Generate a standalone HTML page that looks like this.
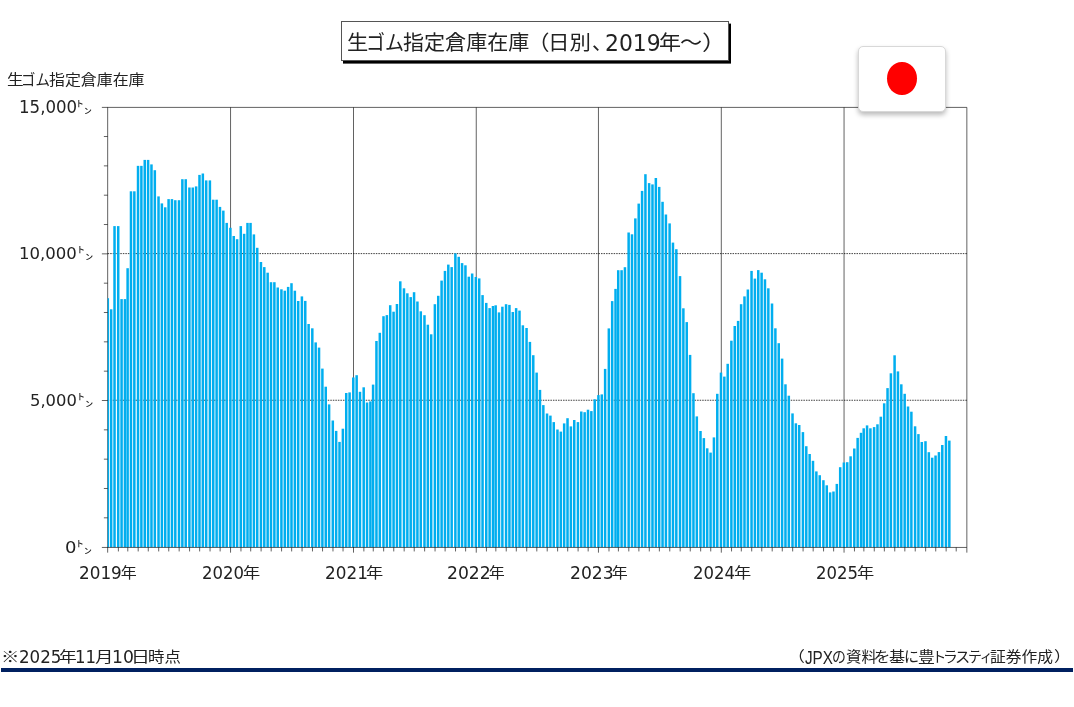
<!DOCTYPE html>
<html lang="ja">
<head>
<meta charset="utf-8">
<title>生ゴム指定倉庫在庫（日別、2019年～）</title>
<style>
html,body{margin:0;padding:0;background:#fff;}
body{width:1074px;height:707px;position:relative;overflow:hidden;color:#222;
  font-family:"Liberation Sans","Noto Sans CJK JP",sans-serif;}
.abs{position:absolute;white-space:nowrap;}
.n{font-family:"DejaVu Sans","Liberation Sans",sans-serif;}
.l{font-family:"Liberation Sans",sans-serif;}
.title{position:absolute;left:341px;top:21px;width:388px;height:40px;box-sizing:border-box;
  border:1px solid #555;background:#fff;box-shadow:2px 2.6px 0 0 #000;}
.ln{position:absolute;left:0;top:0;width:0;height:0;white-space:nowrap;}
.ln span{position:absolute;transform-origin:0 0;white-space:nowrap;}
.flag{position:absolute;left:858.2px;top:46px;width:87.6px;height:65.6px;box-sizing:border-box;border:1px solid #d8d8d8;border-radius:5px;background:#fff;
  box-shadow:0 3px 5px rgba(0,0,0,.27);}
.flag i{position:absolute;left:28.3px;top:15.4px;width:29.6px;height:32.9px;border-radius:50%;background:#f00;}
.rule{position:absolute;left:0.7px;top:667.9px;width:1072.4px;height:3.75px;background:#002060;}
</style>
</head>
<body>
<svg width="1074" height="707" viewBox="0 0 1074 707" style="position:absolute;left:0;top:0">
<defs><clipPath id="pc"><rect x="107.66" y="107.4" width="859.19" height="440.05"/></clipPath></defs>
<g><line x1="107.66" y1="400.25" x2="966.85" y2="400.25" stroke="#000" stroke-width="0.75" stroke-dasharray="1.5 1.03"/><line x1="107.66" y1="253.6" x2="966.85" y2="253.6" stroke="#000" stroke-width="0.75" stroke-dasharray="1.5 1.03"/><line x1="230.55" y1="107.4" x2="230.55" y2="547.45" stroke="#000" stroke-width="0.62"/><line x1="353.5" y1="107.4" x2="353.5" y2="547.45" stroke="#000" stroke-width="0.62"/><line x1="476.25" y1="107.4" x2="476.25" y2="547.45" stroke="#000" stroke-width="0.62"/><line x1="598.45" y1="107.4" x2="598.45" y2="547.45" stroke="#000" stroke-width="0.62"/><line x1="721.3" y1="107.4" x2="721.3" y2="547.45" stroke="#000" stroke-width="0.62"/><line x1="844.05" y1="107.4" x2="844.05" y2="547.45" stroke="#000" stroke-width="0.62"/><line x1="107.66" y1="107.4" x2="107.66" y2="547.45" stroke="#000" stroke-width="0.62"/></g>
<g fill="#00AEEF" clip-path="url(#pc)"><rect x="106.56" y="298.2" width="2.5" height="249.25"/><rect x="109.92" y="309.3" width="2.5" height="238.15"/><rect x="113.28" y="226.1" width="2.5" height="321.35"/><rect x="116.97" y="226.1" width="2.5" height="321.35"/><rect x="120.33" y="299.1" width="2.5" height="248.35"/><rect x="123.69" y="299.1" width="2.5" height="248.35"/><rect x="126.37" y="268.2" width="2.5" height="279.25"/><rect x="129.73" y="191.3" width="2.5" height="356.15"/><rect x="133.09" y="191.3" width="2.5" height="356.15"/><rect x="136.78" y="165.85" width="2.5" height="381.6"/><rect x="140.14" y="165.85" width="2.5" height="381.6"/><rect x="143.5" y="159.9" width="2.5" height="387.55"/><rect x="146.86" y="159.9" width="2.5" height="387.55"/><rect x="150.22" y="164.4" width="2.5" height="383.05"/><rect x="153.57" y="170.2" width="2.5" height="377.25"/><rect x="157.27" y="196.4" width="2.5" height="351.05"/><rect x="160.63" y="203.4" width="2.5" height="344.05"/><rect x="163.98" y="207.3" width="2.5" height="340.15"/><rect x="167.34" y="199.1" width="2.5" height="348.35"/><rect x="170.7" y="199.1" width="2.5" height="348.35"/><rect x="174.06" y="200.2" width="2.5" height="347.25"/><rect x="177.75" y="200.2" width="2.5" height="347.25"/><rect x="181.11" y="179.2" width="2.5" height="368.25"/><rect x="184.47" y="179.2" width="2.5" height="368.25"/><rect x="188.16" y="187.5" width="2.5" height="359.95"/><rect x="191.52" y="187.5" width="2.5" height="359.95"/><rect x="194.88" y="186.4" width="2.5" height="361.05"/><rect x="198.24" y="174.9" width="2.5" height="372.55"/><rect x="201.59" y="173.5" width="2.5" height="373.95"/><rect x="204.95" y="180.4" width="2.5" height="367.05"/><rect x="208.65" y="180.4" width="2.5" height="367.05"/><rect x="212" y="199.7" width="2.5" height="347.75"/><rect x="215.36" y="199.7" width="2.5" height="347.75"/><rect x="218.72" y="206.9" width="2.5" height="340.55"/><rect x="222.08" y="210.6" width="2.5" height="336.85"/><rect x="225.44" y="222.9" width="2.5" height="324.55"/><rect x="229.13" y="227.8" width="2.5" height="319.65"/><rect x="232.49" y="236" width="2.5" height="311.45"/><rect x="235.85" y="239.2" width="2.5" height="308.25"/><rect x="239.54" y="226.1" width="2.5" height="321.35"/><rect x="242.9" y="233.8" width="2.5" height="313.65"/><rect x="246.25" y="222.9" width="2.5" height="324.55"/><rect x="249.28" y="222.9" width="2.5" height="324.55"/><rect x="252.64" y="234.4" width="2.5" height="313.05"/><rect x="255.99" y="247.8" width="2.5" height="299.65"/><rect x="259.69" y="262" width="2.5" height="285.45"/><rect x="263.04" y="267.1" width="2.5" height="280.35"/><rect x="266.4" y="272.7" width="2.5" height="274.75"/><rect x="269.76" y="282.2" width="2.5" height="265.25"/><rect x="273.12" y="282.2" width="2.5" height="265.25"/><rect x="276.48" y="287.5" width="2.5" height="259.95"/><rect x="280.17" y="289.3" width="2.5" height="258.15"/><rect x="283.53" y="290.7" width="2.5" height="256.75"/><rect x="286.89" y="286.9" width="2.5" height="260.55"/><rect x="290.24" y="283.2" width="2.5" height="264.25"/><rect x="293.6" y="290.7" width="2.5" height="256.75"/><rect x="296.96" y="301" width="2.5" height="246.45"/><rect x="300.65" y="296.4" width="2.5" height="251.05"/><rect x="304.01" y="300.9" width="2.5" height="246.55"/><rect x="307.37" y="324" width="2.5" height="223.45"/><rect x="311.06" y="328.3" width="2.5" height="219.15"/><rect x="314.42" y="342.4" width="2.5" height="205.05"/><rect x="317.78" y="347.6" width="2.5" height="199.85"/><rect x="321.14" y="368.6" width="2.5" height="178.85"/><rect x="324.5" y="386.7" width="2.5" height="160.75"/><rect x="327.85" y="404.4" width="2.5" height="143.05"/><rect x="331.55" y="420.5" width="2.5" height="126.95"/><rect x="334.91" y="430.9" width="2.5" height="116.55"/><rect x="338.26" y="441.9" width="2.5" height="105.55"/><rect x="341.62" y="428.7" width="2.5" height="118.75"/><rect x="344.98" y="393" width="2.5" height="154.45"/><rect x="348.34" y="392.4" width="2.5" height="155.05"/><rect x="352.03" y="377.5" width="2.5" height="169.95"/><rect x="355.39" y="375.2" width="2.5" height="172.25"/><rect x="358.75" y="391.8" width="2.5" height="155.65"/><rect x="362.44" y="387.3" width="2.5" height="160.15"/><rect x="365.8" y="402.5" width="2.5" height="144.95"/><rect x="369.16" y="401.4" width="2.5" height="146.05"/><rect x="371.84" y="384.6" width="2.5" height="162.85"/><rect x="375.2" y="341" width="2.5" height="206.45"/><rect x="378.56" y="332.8" width="2.5" height="214.65"/><rect x="382.25" y="316.2" width="2.5" height="231.25"/><rect x="385.61" y="315.1" width="2.5" height="232.35"/><rect x="388.97" y="305.2" width="2.5" height="242.25"/><rect x="392.33" y="311.7" width="2.5" height="235.75"/><rect x="395.69" y="304" width="2.5" height="243.45"/><rect x="399.04" y="281.3" width="2.5" height="266.15"/><rect x="402.74" y="288.3" width="2.5" height="259.15"/><rect x="406.1" y="293.3" width="2.5" height="254.15"/><rect x="409.45" y="297.1" width="2.5" height="250.35"/><rect x="412.81" y="292.2" width="2.5" height="255.25"/><rect x="416.17" y="301.5" width="2.5" height="245.95"/><rect x="419.53" y="311.3" width="2.5" height="236.15"/><rect x="423.22" y="315.2" width="2.5" height="232.25"/><rect x="426.58" y="324.7" width="2.5" height="222.75"/><rect x="429.94" y="334.3" width="2.5" height="213.15"/><rect x="433.63" y="304.2" width="2.5" height="243.25"/><rect x="436.99" y="295.8" width="2.5" height="251.65"/><rect x="440.35" y="280.6" width="2.5" height="266.85"/><rect x="443.71" y="270.9" width="2.5" height="276.55"/><rect x="447.06" y="264.6" width="2.5" height="282.85"/><rect x="450.42" y="267.1" width="2.5" height="280.35"/><rect x="454.12" y="253.4" width="2.5" height="294.05"/><rect x="457.47" y="256.8" width="2.5" height="290.65"/><rect x="460.83" y="263.1" width="2.5" height="284.35"/><rect x="464.19" y="265.3" width="2.5" height="282.15"/><rect x="467.55" y="276.7" width="2.5" height="270.75"/><rect x="470.91" y="273.5" width="2.5" height="273.95"/><rect x="474.6" y="277" width="2.5" height="270.45"/><rect x="477.96" y="278.4" width="2.5" height="269.05"/><rect x="481.31" y="295.1" width="2.5" height="252.35"/><rect x="485.01" y="302.9" width="2.5" height="244.55"/><rect x="488.37" y="308.1" width="2.5" height="239.35"/><rect x="491.72" y="306" width="2.5" height="241.45"/><rect x="494.41" y="305.3" width="2.5" height="242.15"/><rect x="497.77" y="312.4" width="2.5" height="235.05"/><rect x="501.13" y="306.7" width="2.5" height="240.75"/><rect x="504.82" y="304.2" width="2.5" height="243.25"/><rect x="508.18" y="304.9" width="2.5" height="242.55"/><rect x="511.54" y="312" width="2.5" height="235.45"/><rect x="514.89" y="308.1" width="2.5" height="239.35"/><rect x="518.25" y="310.6" width="2.5" height="236.85"/><rect x="521.61" y="325.3" width="2.5" height="222.15"/><rect x="525.3" y="328" width="2.5" height="219.45"/><rect x="528.66" y="341.9" width="2.5" height="205.55"/><rect x="532.02" y="355.2" width="2.5" height="192.25"/><rect x="535.38" y="372.6" width="2.5" height="174.85"/><rect x="538.74" y="389.9" width="2.5" height="157.55"/><rect x="542.09" y="405.1" width="2.5" height="142.35"/><rect x="545.79" y="413.5" width="2.5" height="133.95"/><rect x="549.15" y="415.6" width="2.5" height="131.85"/><rect x="552.5" y="422.1" width="2.5" height="125.35"/><rect x="556.2" y="429.5" width="2.5" height="117.95"/><rect x="559.56" y="431.6" width="2.5" height="115.85"/><rect x="562.91" y="423.4" width="2.5" height="124.05"/><rect x="566.27" y="418.2" width="2.5" height="129.25"/><rect x="569.63" y="426.4" width="2.5" height="121.05"/><rect x="572.99" y="420" width="2.5" height="127.45"/><rect x="576.68" y="422.1" width="2.5" height="125.35"/><rect x="580.04" y="411.5" width="2.5" height="135.95"/><rect x="583.4" y="412.2" width="2.5" height="135.25"/><rect x="586.76" y="409.7" width="2.5" height="137.75"/><rect x="590.11" y="411.1" width="2.5" height="136.35"/><rect x="593.47" y="399.3" width="2.5" height="148.15"/><rect x="597.17" y="395.1" width="2.5" height="152.35"/><rect x="600.52" y="394.4" width="2.5" height="153.05"/><rect x="603.88" y="368.9" width="2.5" height="178.55"/><rect x="607.58" y="328.4" width="2.5" height="219.05"/><rect x="610.93" y="301.1" width="2.5" height="246.35"/><rect x="614.29" y="288.9" width="2.5" height="258.55"/><rect x="616.98" y="270.2" width="2.5" height="277.25"/><rect x="620.34" y="270.2" width="2.5" height="277.25"/><rect x="623.69" y="267.2" width="2.5" height="280.25"/><rect x="627.39" y="232.5" width="2.5" height="314.95"/><rect x="630.75" y="234.3" width="2.5" height="313.15"/><rect x="634.1" y="218.4" width="2.5" height="329.05"/><rect x="637.46" y="203.6" width="2.5" height="343.85"/><rect x="640.82" y="190.9" width="2.5" height="356.55"/><rect x="644.18" y="174.2" width="2.5" height="373.25"/><rect x="647.87" y="183.1" width="2.5" height="364.35"/><rect x="651.23" y="184.4" width="2.5" height="363.05"/><rect x="654.59" y="178" width="2.5" height="369.45"/><rect x="657.95" y="186.9" width="2.5" height="360.55"/><rect x="661.3" y="201.8" width="2.5" height="345.65"/><rect x="664.66" y="214.5" width="2.5" height="332.95"/><rect x="668.36" y="223.4" width="2.5" height="324.05"/><rect x="671.71" y="242.6" width="2.5" height="304.85"/><rect x="675.07" y="249.2" width="2.5" height="298.25"/><rect x="678.77" y="276.1" width="2.5" height="271.35"/><rect x="682.12" y="308.3" width="2.5" height="239.15"/><rect x="685.48" y="322.1" width="2.5" height="225.35"/><rect x="688.84" y="354.9" width="2.5" height="192.55"/><rect x="692.2" y="393.2" width="2.5" height="154.25"/><rect x="695.56" y="416.4" width="2.5" height="131.05"/><rect x="699.25" y="431" width="2.5" height="116.45"/><rect x="702.61" y="438.1" width="2.5" height="109.35"/><rect x="705.97" y="448.3" width="2.5" height="99.15"/><rect x="709.32" y="452.6" width="2.5" height="94.85"/><rect x="712.68" y="437.4" width="2.5" height="110.05"/><rect x="716.04" y="393.8" width="2.5" height="153.65"/><rect x="719.73" y="372.6" width="2.5" height="174.85"/><rect x="723.09" y="376.6" width="2.5" height="170.85"/><rect x="726.45" y="363.8" width="2.5" height="183.65"/><rect x="730.14" y="340.7" width="2.5" height="206.75"/><rect x="733.5" y="326" width="2.5" height="221.45"/><rect x="736.86" y="320.9" width="2.5" height="226.55"/><rect x="739.88" y="304.2" width="2.5" height="243.25"/><rect x="743.24" y="296.4" width="2.5" height="251.05"/><rect x="746.6" y="289.5" width="2.5" height="257.95"/><rect x="750.29" y="270.9" width="2.5" height="276.55"/><rect x="753.65" y="278.6" width="2.5" height="268.85"/><rect x="757.01" y="270.1" width="2.5" height="277.35"/><rect x="760.36" y="272.7" width="2.5" height="274.75"/><rect x="763.72" y="279.3" width="2.5" height="268.15"/><rect x="767.08" y="288.3" width="2.5" height="259.15"/><rect x="770.77" y="303.5" width="2.5" height="243.95"/><rect x="774.13" y="328.3" width="2.5" height="219.15"/><rect x="777.49" y="343.2" width="2.5" height="204.25"/><rect x="780.85" y="358.6" width="2.5" height="188.85"/><rect x="784.21" y="384.3" width="2.5" height="163.15"/><rect x="787.56" y="395.7" width="2.5" height="151.75"/><rect x="791.26" y="413.4" width="2.5" height="134.05"/><rect x="794.62" y="423.3" width="2.5" height="124.15"/><rect x="797.97" y="425" width="2.5" height="122.45"/><rect x="801.67" y="432.1" width="2.5" height="115.35"/><rect x="805.03" y="446.2" width="2.5" height="101.25"/><rect x="808.38" y="454" width="2.5" height="93.45"/><rect x="811.74" y="460.8" width="2.5" height="86.65"/><rect x="815.1" y="471.4" width="2.5" height="76.05"/><rect x="818.46" y="475.2" width="2.5" height="72.25"/><rect x="822.15" y="480.2" width="2.5" height="67.25"/><rect x="825.51" y="485.3" width="2.5" height="62.15"/><rect x="828.87" y="492.4" width="2.5" height="55.05"/><rect x="832.23" y="491.5" width="2.5" height="55.95"/><rect x="835.58" y="483.9" width="2.5" height="63.55"/><rect x="838.94" y="467.2" width="2.5" height="80.25"/><rect x="842.64" y="462.5" width="2.5" height="84.95"/><rect x="845.99" y="462.2" width="2.5" height="85.25"/><rect x="849.35" y="456.3" width="2.5" height="91.15"/><rect x="853.05" y="448.5" width="2.5" height="98.95"/><rect x="856.4" y="437.9" width="2.5" height="109.55"/><rect x="859.76" y="432.8" width="2.5" height="114.65"/><rect x="862.45" y="428.3" width="2.5" height="119.15"/><rect x="865.81" y="425.4" width="2.5" height="122.05"/><rect x="869.16" y="428.3" width="2.5" height="119.15"/><rect x="872.86" y="427.1" width="2.5" height="120.35"/><rect x="876.22" y="424.3" width="2.5" height="123.15"/><rect x="879.57" y="416.7" width="2.5" height="130.75"/><rect x="882.93" y="403.3" width="2.5" height="144.15"/><rect x="886.29" y="388.1" width="2.5" height="159.35"/><rect x="889.65" y="373.3" width="2.5" height="174.15"/><rect x="893.34" y="355.3" width="2.5" height="192.15"/><rect x="896.7" y="371.4" width="2.5" height="176.05"/><rect x="900.06" y="384.3" width="2.5" height="163.15"/><rect x="903.42" y="393.8" width="2.5" height="153.65"/><rect x="906.77" y="406.5" width="2.5" height="140.95"/><rect x="910.13" y="411.7" width="2.5" height="135.75"/><rect x="913.83" y="426.3" width="2.5" height="121.15"/><rect x="917.18" y="434.1" width="2.5" height="113.35"/><rect x="920.54" y="442" width="2.5" height="105.45"/><rect x="924.24" y="441.2" width="2.5" height="106.25"/><rect x="927.59" y="452.2" width="2.5" height="95.25"/><rect x="930.95" y="457.7" width="2.5" height="89.75"/><rect x="934.31" y="455.5" width="2.5" height="91.95"/><rect x="937.67" y="452.1" width="2.5" height="95.35"/><rect x="941.03" y="445" width="2.5" height="102.45"/><rect x="944.72" y="436" width="2.5" height="111.45"/><rect x="948.08" y="440.6" width="2.5" height="106.85"/></g>
<path d="M107.36 107.4H966.85V547.45H107.36M101.86 547.45H107.66M103.86 517.82H107.66M103.86 488.49H107.66M103.86 459.16H107.66M103.86 429.83H107.66M101.86 400.5H107.66M103.86 371.17H107.66M103.86 341.84H107.66M103.86 312.51H107.66M103.86 283.18H107.66M101.86 253.85H107.66M103.86 224.52H107.66M103.86 195.19H107.66M103.86 165.86H107.66M103.86 136.53H107.66M101.86 107.4H107.66M107.66 547.45V552.65M118.39 547.45V551.45M127.79 547.45V551.45M138.2 547.45V551.45M148.28 547.45V551.45M158.69 547.45V551.45M168.76 547.45V551.45M179.17 547.45V551.45M189.58 547.45V551.45M199.65 547.45V551.45M210.06 547.45V551.45M220.14 547.45V551.45M230.55 547.45V552.65M240.96 547.45V551.45M250.69 547.45V551.45M261.1 547.45V551.45M271.18 547.45V551.45M281.59 547.45V551.45M291.66 547.45V551.45M302.07 547.45V551.45M312.48 547.45V551.45M322.56 547.45V551.45M332.97 547.45V551.45M343.04 547.45V551.45M353.5 547.45V552.65M363.86 547.45V551.45M373.26 547.45V551.45M383.67 547.45V551.45M393.75 547.45V551.45M404.16 547.45V551.45M414.23 547.45V551.45M424.64 547.45V551.45M435.05 547.45V551.45M445.12 547.45V551.45M455.53 547.45V551.45M465.61 547.45V551.45M476.25 547.45V552.65M486.43 547.45V551.45M495.83 547.45V551.45M506.24 547.45V551.45M516.31 547.45V551.45M526.72 547.45V551.45M536.8 547.45V551.45M547.21 547.45V551.45M557.62 547.45V551.45M567.69 547.45V551.45M578.1 547.45V551.45M588.17 547.45V551.45M598.45 547.45V552.65M608.99 547.45V551.45M618.4 547.45V551.45M628.81 547.45V551.45M638.88 547.45V551.45M649.29 547.45V551.45M659.36 547.45V551.45M669.77 547.45V551.45M680.18 547.45V551.45M690.26 547.45V551.45M700.67 547.45V551.45M710.74 547.45V551.45M721.3 547.45V552.65M731.56 547.45V551.45M741.3 547.45V551.45M751.71 547.45V551.45M761.78 547.45V551.45M772.19 547.45V551.45M782.27 547.45V551.45M792.68 547.45V551.45M803.09 547.45V551.45M813.16 547.45V551.45M823.57 547.45V551.45M833.64 547.45V551.45M844.05 547.45V552.65M854.46 547.45V551.45M863.87 547.45V551.45M874.28 547.45V551.45M884.35 547.45V551.45M894.76 547.45V551.45M904.83 547.45V551.45M915.24 547.45V551.45M925.65 547.45V551.45M935.73 547.45V551.45M946.14 547.45V551.45M956.21 547.45V551.45M966.85 547.45V552.65" fill="none" stroke="#000" stroke-width="0.62"/>
</svg>
<div class="title"></div>
<div class="ln" id="ttl" style="font-size:21.33px;line-height:31.99px"><span style="left:347.11px;top:29.21px;transform:scale(0.996,0.966)">生</span><span style="left:365.70px;top:29.21px;transform:scale(0.891,0.966)">ゴム</span><span style="left:402.50px;top:29.21px;transform:scale(0.987,0.966)">指定倉庫在庫</span><span style="left:526.75px;top:29.21px;transform:scale(1.058,0.966)">（</span><span style="left:548.45px;top:29.21px;transform:scale(1.005,0.966)">日別</span><span style="left:591.92px;top:29.21px;transform:scale(0.950,0.966)">、</span><span class="n" style="left:605.25px;top:26.80px;transform:scale(1.026,1.047)">2019</span><span style="left:658.73px;top:29.21px;transform:scale(1.034,0.966)">年</span><span style="left:679.86px;top:29.21px;transform:scale(1.038,0.966)">～</span><span style="left:701.57px;top:29.21px;transform:scale(1.150,0.966)">）</span></div>
<div class="ln" id="ylab" style="font-size:16px;line-height:24.00px"><span style="left:6.60px;top:69.49px;transform:scale(1.039,0.935)">生</span><span style="left:21.14px;top:69.49px;transform:scale(0.905,0.935)">ゴム</span><span style="left:49.36px;top:69.49px;transform:scale(0.995,0.935)">指定倉庫在庫</span></div>
<div class="ln" id="y15" style="font-size:16px;line-height:24.00px"><span class="n" style="left:19.46px;top:94.53px;transform:scale(1.038,1.046)">15,000</span><span style="left:76.25px;top:96.10px;transform:scale(1.001,1.000)">㌧</span></div>
<div class="ln" id="y10" style="font-size:16px;line-height:24.00px"><span class="n" style="left:19.42px;top:241.65px;transform:scale(1.034,1.025)">10,000</span><span style="left:77.04px;top:241.90px;transform:scale(1.024,1.000)">㌧</span></div>
<div class="ln" id="y5" style="font-size:16px;line-height:24.00px"><span class="n" style="left:29.64px;top:388.64px;transform:scale(1.023,1.025)">5,000</span><span style="left:77.04px;top:389.10px;transform:scale(1.024,1.000)">㌧</span></div>
<div class="ln" id="y0" style="font-size:16px;line-height:24.00px"><span class="n" style="left:65.28px;top:535.64px;transform:scale(1.127,1.025)">0</span><span style="left:76.25px;top:536.30px;transform:scale(1.001,1.000)">㌧</span></div>
<div class="ln" id="f1" style="font-size:16px;line-height:24.00px"><span style="left:1.26px;top:647.47px;transform:scale(1.150,0.897)">※</span><span class="n" style="left:19.05px;top:644.10px;transform:scale(1.043,1.099)">2025</span><span style="left:58.96px;top:647.47px;transform:scale(1.108,0.897)">年</span><span class="n" style="left:74.83px;top:644.10px;transform:scale(1.031,1.099)">11</span><span style="left:94.96px;top:647.47px;transform:scale(1.147,0.897)">月</span><span class="n" style="left:112.30px;top:644.10px;transform:scale(1.074,1.099)">10</span><span style="left:131.19px;top:647.47px;transform:scale(1.175,0.897)">日</span><span style="left:148.44px;top:647.47px;transform:scale(1.026,0.897)">時点</span></div>
<div class="ln" id="f2" style="font-size:14.67px;line-height:22.00px"><span style="left:787.64px;top:646.23px;transform:scale(1.150,1.000)">（</span><span class="l" style="left:805.28px;top:643.99px;transform:scale(1.039,1.221)">JPX</span><span style="left:831.79px;top:646.23px;transform:scale(0.948,1.000)">の</span><span style="left:846.02px;top:646.23px;transform:scale(1.052,1.000)">資料</span><span style="left:874.25px;top:646.23px;transform:scale(1.117,1.000)">を</span><span style="left:888.51px;top:646.23px;transform:scale(1.100,1.000)">基</span><span style="left:903.64px;top:646.23px;transform:scale(1.029,1.000)">に</span><span style="left:917.73px;top:646.23px;transform:scale(1.147,1.000)">豊</span><span style="left:931.50px;top:646.23px;transform:scale(0.978,1.000)">ト</span><span style="left:943.01px;top:646.23px;transform:scale(1.009,1.000)">ラ</span><span style="left:954.69px;top:646.23px;transform:scale(1.039,1.000)">ス</span><span style="left:967.79px;top:646.23px;transform:scale(0.948,1.000)">テ</span><span style="left:979.67px;top:646.23px;transform:scale(0.845,1.000)">ィ</span><span style="left:990.01px;top:646.23px;transform:scale(1.075,1.000)">証券作成</span><span style="left:1054.15px;top:646.23px;transform:scale(1.150,1.000)">）</span></div>
<div class="ln" id="x2019" style="font-size:16px;line-height:24.00px"><span class="n" style="left:79.25px;top:560.16px;transform:scale(1.051,1.099)">2019</span><span style="left:120.70px;top:561.96px;transform:scale(1.000,0.916)">年</span></div>
<div class="ln" id="x2020" style="font-size:16px;line-height:24.00px"><span class="n" style="left:201.93px;top:560.16px;transform:scale(1.030,1.099)">2020</span><span style="left:242.56px;top:561.96px;transform:scale(1.075,0.916)">年</span></div>
<div class="ln" id="x2021" style="font-size:16px;line-height:24.00px"><span class="n" style="left:324.99px;top:560.16px;transform:scale(1.052,1.099)">2021</span><span style="left:365.62px;top:561.96px;transform:scale(1.075,0.916)">年</span></div>
<div class="ln" id="x2022" style="font-size:16px;line-height:24.00px"><span class="n" style="left:447.42px;top:560.16px;transform:scale(1.073,1.099)">2022</span><span style="left:488.66px;top:561.96px;transform:scale(1.000,0.916)">年</span></div>
<div class="ln" id="x2023" style="font-size:16px;line-height:24.00px"><span class="n" style="left:570.42px;top:560.16px;transform:scale(1.072,1.099)">2023</span><span style="left:611.87px;top:561.96px;transform:scale(1.000,0.916)">年</span></div>
<div class="ln" id="x2024" style="font-size:16px;line-height:24.00px"><span class="n" style="left:693.10px;top:560.16px;transform:scale(1.030,1.099)">2024</span><span style="left:733.74px;top:561.96px;transform:scale(1.075,0.916)">年</span></div>
<div class="ln" id="x2025" style="font-size:16px;line-height:24.00px"><span class="n" style="left:816.16px;top:560.16px;transform:scale(1.031,1.099)">2025</span><span style="left:856.52px;top:561.96px;transform:scale(1.075,0.916)">年</span></div>
<div class="flag"><i></i></div>
<div class="rule"></div>
</body>
</html>
